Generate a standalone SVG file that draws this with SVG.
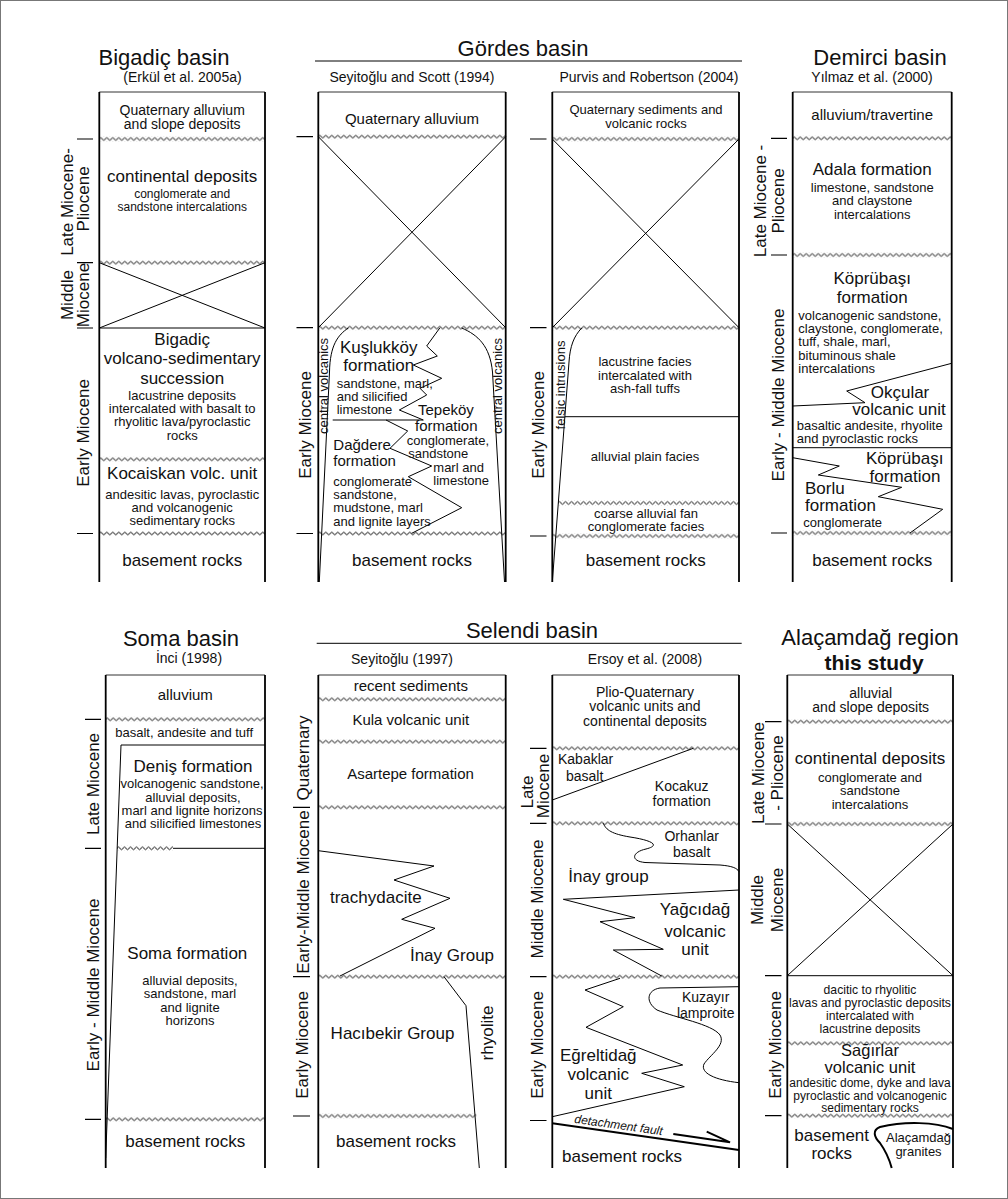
<svg xmlns="http://www.w3.org/2000/svg" width="1008" height="1199" viewBox="0 0 1008 1199">
<defs>
<style>
text{font-family:"Liberation Sans",Arial,Helvetica,sans-serif;fill:#111}
.m{text-anchor:middle}
.ttl{font-size:22px}
.src{font-size:14px}
.u{font-size:17px}
.md{font-size:15px}
.sm{font-size:13px}
.xs{font-size:12px}
.f14{font-size:14px}
.per{font-size:17px;text-anchor:middle}
.edge{stroke:#000;stroke-width:1.8;fill:none}
.top{stroke:#333;stroke-width:1;fill:none}
.ln{fill:none;stroke:#000;stroke-width:1}
.tk{stroke:#000;stroke-width:1.2;fill:none}
.thk{fill:none;stroke:#000;stroke-width:2}
.w{fill:url(#wv)}
</style>
<pattern id="wv" patternUnits="userSpaceOnUse" x="0" y="-2.5" width="6" height="5">
<path d="M0 2.5 Q1.5 -0.3 3 2.5 T6 2.5" fill="none" stroke="#000" stroke-width="1"/>
</pattern>
</defs>
<rect x="0" y="0" width="1008" height="1199" fill="#fff"/>
<rect x="0.5" y="0.5" width="1007" height="1198" fill="none" stroke="#777" stroke-width="1"/>

<g id="titles">
<text class="ttl m" x="164" y="65">Bigadiç basin</text>
<text class="src m" x="182.5" y="82">(Erkül et al. 2005a)</text>
<text class="ttl m" x="523" y="56">Gördes basin</text>
<path class="ln" d="M315 61H742"/>
<text class="src m" x="412" y="82">Seyitoğlu and Scott (1994)</text>
<text class="src m" x="649" y="82">Purvis and Robertson (2004)</text>
<text class="ttl m" x="880" y="65">Demirci basin</text>
<text class="src m" x="872" y="82">Yılmaz et al. (2000)</text>
<text class="ttl m" x="181" y="646">Soma basin</text>
<text class="src m" x="189" y="663">İnci (1998)</text>
<text class="ttl m" x="532" y="638">Selendi basin</text>
<path class="ln" d="M316.7 643.3H741.7"/>
<text class="src m" x="402" y="664">Seyitoğlu (1997)</text>
<text class="src m" x="645" y="664">Ersoy et al. (2008)</text>
<text class="ttl m" x="870" y="645">Alaçamdağ region</text>
<text class="m" font-size="21" x="874" y="669.5" font-weight="bold">this study</text>
</g>

<g id="col-bigadic">
<path class="top" d="M99.3 92H265"/>
<path class="edge" d="M99.3 92V582M265 92V582"/>
<rect class="w" y="-2.5" width="165.7" height="5" transform="translate(99.3,139)"/>
<rect class="w" y="-2.5" width="165.7" height="5" transform="translate(99.3,262.7)"/>
<rect class="w" y="-2.5" width="165.7" height="5" transform="translate(99.3,459.3)"/>
<rect class="w" y="-2.5" width="165.7" height="5" transform="translate(99.3,533.5)"/>
<path class="ln" d="M99.3 328H265M99.3 262.7L265 328M99.3 328L265 262.7"/>
<path class="tk" d="M77 139h16M77 262.7h16M77 328h16M77 533.5h16"/>
<text class="f14 m" x="182.2" y="114.5">Quaternary alluvium</text>
<text class="f14 m" x="182.2" y="129">and slope deposits</text>
<text class="u m" x="182.2" y="182">continental deposits</text>
<text class="xs m" x="182.2" y="198.2">conglomerate and</text>
<text class="xs m" x="182.2" y="210.9">sandstone intercalations</text>
<text class="u m" x="182.2" y="344.5">Bigadiç</text>
<text class="u m" x="182.2" y="364">volcano-sedimentary</text>
<text class="u m" x="182.2" y="383.5">succession</text>
<text class="sm m" x="182.2" y="399.6">lacustrine deposits</text>
<text class="sm m" x="182.2" y="413">intercalated with basalt to</text>
<text class="sm m" x="182.2" y="426.3">rhyolitic lava/pyroclastic</text>
<text class="sm m" x="182.2" y="439.6">rocks</text>
<text class="u m" x="182.2" y="479.3">Kocaiskan volc. unit</text>
<text class="sm m" x="182.2" y="498.6">andesitic lavas, pyroclastic</text>
<text class="sm m" x="182.2" y="512">and volcanogenic</text>
<text class="sm m" x="182.2" y="525.3">sedimentary rocks</text>
<text class="u m" x="182.2" y="566">basement rocks</text>
<text class="per" transform="translate(72.7,202) rotate(-90)">Late Miocene-</text>
<text class="per" transform="translate(89.3,199) rotate(-90)">Pliocene</text>
<text class="per" transform="translate(72.7,295) rotate(-90)">Middle</text>
<text class="per" transform="translate(89.3,295) rotate(-90)">Miocene</text>
<text class="per" transform="translate(88.5,433) rotate(-90)">Early Miocene</text>
</g>

<g id="col-seyitoglu-scott">
<path class="top" d="M318.3 92H505.7"/>
<path class="edge" d="M318.3 92V582M505.7 92V582"/>
<rect class="w" y="-2.5" width="187.4" height="5" transform="translate(318.3,136.7)"/>
<rect class="w" y="-2.5" width="187.4" height="5" transform="translate(318.3,327.7)"/>
<rect class="w" y="-2.5" width="187.4" height="5" transform="translate(318.3,533.5)"/>
<path class="ln" d="M318.3 136.7L505.7 327.7M318.3 327.7L505.7 136.7"/>
<path class="ln" d="M348.3 328C338 335 330 345 329.5 372L319.3 582"/>
<path class="ln" d="M461.7 328C478 335 490 346 492.5 372L504.5 582"/>
<path class="ln" d="M440 327.7L426.7 346L437.3 356L413.3 365L441.7 378.3L420 388.3L426.7 395L399.3 410L423.3 420"/>
<path class="ln" d="M332.7 420H423.3"/>
<path class="ln" d="M386 420L407.7 431L390 448.3L431.7 466L408.3 476.7L461.7 507.7L411.7 533.3"/>
<path class="tk" d="M296.5 136.7h16.5M296.5 327.7h16.5M296.5 533.5h16.5"/>
<text class="md m" x="412" y="123.6">Quaternary alluvium</text>
<text class="u" x="340" y="352.5">Kuşlukköy</text>
<text class="u" x="343.3" y="371">formation</text>
<text class="sm" x="336.7" y="387.5">sandstone, marl,</text>
<text class="sm" x="336.7" y="400.8">and silicified</text>
<text class="sm" x="336.7" y="414.1">limestone</text>
<text class="md" x="418" y="415.3">Tepeköy</text>
<text class="md" x="415" y="430.8">formation</text>
<text class="sm" x="406.7" y="445">conglomerate,</text>
<text class="sm" x="408.3" y="458.3">sandstone</text>
<text class="sm" x="433.3" y="471.6">marl and</text>
<text class="sm" x="433.3" y="484.9">limestone</text>
<text class="md" x="333.3" y="450">Dağdere</text>
<text class="md" x="333.3" y="465.8">formation</text>
<text class="sm" x="333.3" y="485.8">conglomerate</text>
<text class="sm" x="333.3" y="499.1">sandstone,</text>
<text class="sm" x="333.3" y="512.4">mudstone, marl</text>
<text class="sm" x="333.3" y="525.7">and lignite layers</text>
<text class="u m" x="412" y="566">basement rocks</text>
<text class="sm m" transform="translate(328.4,386) rotate(-90)">central volcanics</text>
<text class="sm m" transform="translate(502,386) rotate(-90)">central volcanics</text>
<text class="per" transform="translate(311,425) rotate(-90)">Early Miocene</text>
</g>

<g id="col-purvis">
<path class="top" d="M552.3 92H739"/>
<path class="edge" d="M552.3 92V582M739 92V582"/>
<rect class="w" y="-2.5" width="186.7" height="5" transform="translate(552.3,139)"/>
<rect class="w" y="-2.5" width="186.7" height="5" transform="translate(552.3,327.7)"/>
<rect class="w" y="-2.5" width="181" height="5" transform="translate(558,503)"/>
<rect class="w" y="-2.5" width="186.7" height="5" transform="translate(552.3,536)"/>
<path class="ln" d="M552.3 139L739 327.7M552.3 327.7L739 139"/>
<path class="ln" d="M581.7 328C574 336 570 346 569 362L552.3 582"/>
<path class="ln" d="M565 416.7H739"/>
<path class="tk" d="M530 139h16.5M530 327.7h16.5M530 536h16.5"/>
<text class="sm m" x="646" y="114">Quaternary sediments and</text>
<text class="sm m" x="646" y="128.3">volcanic rocks</text>
<text class="sm m" x="645" y="366.3">lacustrine facies</text>
<text class="sm m" x="645" y="379.6">intercalated with</text>
<text class="sm m" x="645" y="393">ash-fall tuffs</text>
<text class="sm m" x="645" y="461.3">alluvial plain facies</text>
<text class="sm m" x="646" y="518">coarse alluvial fan</text>
<text class="sm m" x="646" y="531.3">conglomerate facies</text>
<text class="u m" x="645.7" y="566">basement rocks</text>
<text class="sm m" transform="translate(565.4,385) rotate(-90)">felsic intrusions</text>
<text class="per" transform="translate(544.3,425) rotate(-90)">Early Miocene</text>
</g>

<g id="col-demirci">
<path class="top" d="M792.7 92H951.7"/>
<path class="edge" d="M792.7 92V582M951.7 92V582"/>
<rect class="w" y="-2.5" width="159" height="5" transform="translate(792.7,138.3)"/>
<rect class="w" y="-2.5" width="159" height="5" transform="translate(792.7,255)"/>
<rect class="w" y="-2.5" width="159" height="5" transform="translate(792.7,533)"/>
<path class="ln" d="M951.7 363.3L846.7 391L865 402.7L792.7 406"/>
<path class="ln" d="M792.7 447.7H951.7"/>
<path class="ln" d="M792.7 457.7L839.3 466L818.3 475L901.7 487.3L878.3 496.7L942.7 509.3L910 533"/>
<path class="tk" d="M771 138.3h16M771 255h16M771 533h16"/>
<text class="md m" x="872.2" y="120.3">alluvium/travertine</text>
<text class="u m" x="872.2" y="175">Adala formation</text>
<text class="sm m" x="872.2" y="192">limestone, sandstone</text>
<text class="sm m" x="872.2" y="205.3">and claystone</text>
<text class="sm m" x="872.2" y="218.6">intercalations</text>
<text class="u m" x="872.2" y="284">Köprübaşı</text>
<text class="u m" x="872.2" y="302.7">formation</text>
<text class="sm" x="798.3" y="319.6">volcanogenic sandstone,</text>
<text class="sm" x="798.3" y="333">claystone, conglomerate,</text>
<text class="sm" x="798.3" y="346.3">tuff, shale, marl,</text>
<text class="sm" x="798.3" y="359.6">bituminous shale</text>
<text class="sm" x="798.3" y="373">intercalations</text>
<text class="u m" x="900" y="397.5">Okçular</text>
<text class="u m" x="899" y="415.2">volcanic unit</text>
<text class="sm" x="796.7" y="430">basaltic andesite, rhyolite</text>
<text class="sm" x="796.7" y="443.3">and pyroclastic rocks</text>
<text class="u m" x="904.7" y="463.5">Köprübaşı</text>
<text class="u m" x="905" y="482">formation</text>
<text class="u" x="805" y="493.5">Borlu</text>
<text class="u" x="805" y="511">formation</text>
<text class="sm" x="803.3" y="526.6">conglomerate</text>
<text class="u m" x="872.2" y="566">basement rocks</text>
<text class="per" transform="translate(766,201) rotate(-90)">Late Miocene -</text>
<text class="per" transform="translate(784.3,201) rotate(-90)">Pliocene</text>
<text class="per" transform="translate(784.3,395) rotate(-90)">Early - Middle Miocene</text>
</g>

<g id="col-soma">
<path class="top" d="M105.7 675H265"/>
<path class="edge" d="M105.7 675V1168M265 675V1168"/>
<rect class="w" y="-2.5" width="159.3" height="5" transform="translate(105.7,719.3)"/>
<rect class="w" y="-2.5" width="56" height="5" transform="translate(117,848.3)"/>
<rect class="w" y="-2.5" width="159.3" height="5" transform="translate(105.7,1119.3)"/>
<path class="ln" d="M121 745H265M121 745L105.7 1158M173 848.3H265"/>
<path class="tk" d="M85 719.3h16M85 848.3h16M85 1119.3h16"/>
<text class="md m" x="185.3" y="700.3">alluvium</text>
<text class="sm m" x="184.2" y="737.3">basalt, andesite and tuff</text>
<text class="u m" x="193" y="771.5">Deniş formation</text>
<text class="sm m" x="192" y="788.4">volcanogenic sandstone,</text>
<text class="sm m" x="193" y="801.7">alluvial deposits,</text>
<text class="sm m" x="192" y="815">marl and lignite horizons</text>
<text class="sm m" x="193" y="828.3">and silicified limestones</text>
<text class="u m" x="187.3" y="959.3">Soma formation</text>
<text class="sm m" x="190" y="985">alluvial deposits,</text>
<text class="sm m" x="190" y="998.3">sandstone, marl</text>
<text class="sm m" x="190" y="1011.6">and lignite</text>
<text class="sm m" x="190" y="1024.9">horizons</text>
<text class="u m" x="185.3" y="1147">basement rocks</text>
<text class="per" transform="translate(99.3,784) rotate(-90)">Late Miocene</text>
<text class="per" transform="translate(99.3,985) rotate(-90)">Early - Middle Miocene</text>
</g>

<g id="col-seyitoglu-1997">
<path class="top" d="M318.3 675H505.7"/>
<path class="edge" d="M318.3 675V1168M505.7 675V1168"/>
<rect class="w" y="-2.5" width="187.4" height="5" transform="translate(318.3,699.3)"/>
<rect class="w" y="-2.5" width="187.4" height="5" transform="translate(318.3,741.7)"/>
<rect class="w" y="-2.5" width="187.4" height="5" transform="translate(318.3,807.3)"/>
<rect class="w" y="-2.5" width="187.4" height="5" transform="translate(318.3,976.7)"/>
<rect class="w" y="-2.5" width="158" height="5" transform="translate(318.3,1116)"/>
<path class="ln" d="M318.3 850.7L434 866L394 880L450 898.3L401.7 919.3L435 928.3L340 976"/>
<path class="ln" d="M444 976.7L466 1005.7L479.3 1168"/>
<path class="tk" d="M293 807.3h17M293 976.7h17M293 1116h17"/>
<text class="md m" x="410.8" y="691.3">recent sediments</text>
<text class="md m" x="410.8" y="724.6">Kula volcanic unit</text>
<text class="md m" x="410.5" y="778.6">Asartepe formation</text>
<text class="u m" x="375.8" y="903.3">trachydacite</text>
<text class="u m" x="452" y="961">İnay Group</text>
<text class="u m" x="392.5" y="1039.3">Hacıbekir Group</text>
<text class="u m" x="396" y="1146.7">basement rocks</text>
<text class="per" transform="translate(493.3,1033) rotate(-90)">rhyolite</text>
<text class="per" transform="translate(309.3,758) rotate(-90)">Quaternary</text>
<text class="per" transform="translate(309.3,892) rotate(-90)">Early-Middle Miocene</text>
<text class="per" transform="translate(307.7,1045) rotate(-90)">Early Miocene</text>
</g>

<g id="col-ersoy">
<path class="top" d="M552.3 675H739"/>
<path class="edge" d="M552.3 675V1168M739 675V1168"/>
<rect class="w" y="-2.5" width="186.7" height="5" transform="translate(552.3,748.3)"/>
<rect class="w" y="-2.5" width="186.7" height="5" transform="translate(552.3,823.3)"/>
<rect class="w" y="-2.5" width="186.7" height="5" transform="translate(552.3,976.7)"/>
<path class="ln" d="M552.3 800L693.3 748.3"/>
<path class="ln" d="M603.3 823.3C606 830 612 834 630 837C650 840 662 845 646 849C632 852 630 861 645 862.5L720 865C732 866 737 868 739 871.7"/>
<path class="ln" d="M739 890L563.3 899.3L635 917.7L600 921.7L663.3 949.3L613.3 950L661.7 976"/>
<path class="ln" d="M739 986.7L660 988C647 990 645 1002 657 1010C676 1018 712 1024 720 1035C726 1045 710 1055 704 1064C700 1073 715 1080 739 1082.7"/>
<path class="ln" d="M620 978.3L585 990L623.3 1006.7L586 1027.3L682.7 1065L641.7 1073.3L684.3 1086.7L552.3 1116.7"/>
<path class="thk" d="M552.3 1123.3L739 1150"/>
<path class="thk" d="M673.3 1134L730 1142.3L706.7 1131.7" stroke-width="2.4" stroke-linejoin="miter"/>
<path class="tk" d="M530 748.3h16.5M530 823.3h16.5M530 976.7h16.5M530 1120.5h16.5"/>
<text class="f14 m" x="645" y="697">Plio-Quaternary</text>
<text class="f14 m" x="645" y="711.3">volcanic units and</text>
<text class="f14 m" x="645" y="725.6">continental deposits</text>
<text class="f14" x="558" y="764.3">Kabaklar</text>
<text class="f14" x="566" y="781">basalt</text>
<text class="f14 m" x="681.7" y="790.5">Kocakuz</text>
<text class="f14 m" x="681.7" y="806">formation</text>
<text class="f14 m" x="691.7" y="841">Orhanlar</text>
<text class="f14 m" x="691.7" y="857.3">basalt</text>
<text class="u" x="568.3" y="881.7">İnay group</text>
<text class="u m" x="695" y="915.3">Yağcıdağ</text>
<text class="u m" x="695" y="936.7">volcanic</text>
<text class="u m" x="695" y="955.3">unit</text>
<text class="f14 m" x="705.7" y="1002">Kuzayır</text>
<text class="f14 m" x="705.7" y="1018">lamproite</text>
<text class="u m" x="598.3" y="1061.3">Eğreltidağ</text>
<text class="u m" x="598.3" y="1080.3">volcanic</text>
<text class="u m" x="598.3" y="1099.3">unit</text>
<text class="xs m" font-style="italic" transform="translate(618,1129) rotate(8)">detachment fault</text>
<text class="u m" x="622" y="1161.7">basement rocks</text>
<text class="per" transform="translate(532.7,792) rotate(-90)">Late</text>
<text class="per" transform="translate(549.3,786) rotate(-90)">Miocene</text>
<text class="per" transform="translate(542.7,899) rotate(-90)">Middle Miocene</text>
<text class="per" transform="translate(542.7,1045) rotate(-90)">Early Miocene</text>
</g>

<g id="col-alacamdag">
<path class="top" d="M787.3 675H953"/>
<path class="edge" d="M787.3 675V1168M953 675V1168"/>
<rect class="w" y="-2.5" width="165.7" height="5" transform="translate(787.3,721.7)"/>
<rect class="w" y="-2.5" width="165.7" height="5" transform="translate(787.3,824)"/>
<rect class="w" y="-2.5" width="165.7" height="5" transform="translate(787.3,1043.3)"/>
<rect class="w" y="-2.5" width="165.7" height="5" transform="translate(787.3,1115.7)"/>
<path class="ln" d="M787.3 824L953 975.7M787.3 975.7L953 824M787.3 975.7H953"/>
<path class="thk" d="M953 1129C935 1122 905 1121 880 1127C872 1130 874 1137 880 1143C885 1150 889 1158 891.7 1168"/>
<path class="tk" d="M765 721.7h16.5M765 824h16.5M765 975.7h16.5M765 1115.7h16.5"/>
<text class="f14 m" x="870.7" y="697.5">alluvial</text>
<text class="f14 m" x="870.7" y="711.8">and slope deposits</text>
<text class="u m" x="870" y="764.3">continental deposits</text>
<text class="sm m" x="870" y="782">conglomerate and</text>
<text class="sm m" x="870" y="795.3">sandstone</text>
<text class="sm m" x="870" y="808.6">intercalations</text>
<text class="m" font-size="12.2" x="870" y="993.8">dacitic to rhyolitic</text>
<text class="m" font-size="12.2" x="870" y="1006.7">lavas and pyroclastic deposits</text>
<text class="m" font-size="12.2" x="870" y="1019.6">intercalated with</text>
<text class="m" font-size="12.2" x="870" y="1032.5">lacustrine deposits</text>
<text class="m" font-size="16.5" x="870" y="1056.3">Sağırlar</text>
<text class="m" font-size="16.5" x="870" y="1073">volcanic unit</text>
<text class="m" font-size="12" x="870" y="1087.3">andesitic dome, dyke and lava</text>
<text class="m" font-size="12" x="870" y="1099.5">pyroclastic and volcanogenic</text>
<text class="m" font-size="12" x="870" y="1111.7">sedimentary rocks</text>
<text class="u m" x="831.7" y="1141">basement</text>
<text class="u m" x="831.7" y="1159.3">rocks</text>
<text class="m" font-size="13" x="918.5" y="1141.5">Alaçamdağ</text>
<text class="m" font-size="13" x="918.5" y="1155.5">granites</text>
<text class="per" transform="translate(764.3,773) rotate(-90)">Late Miocene</text>
<text class="per" transform="translate(782.7,773) rotate(-90)">- Pliocene</text>
<text class="per" transform="translate(762.7,900) rotate(-90)">Middle</text>
<text class="per" transform="translate(782.7,900) rotate(-90)">Miocene</text>
<text class="per" transform="translate(781,1045) rotate(-90)">Early Miocene</text>
</g>
</svg>
